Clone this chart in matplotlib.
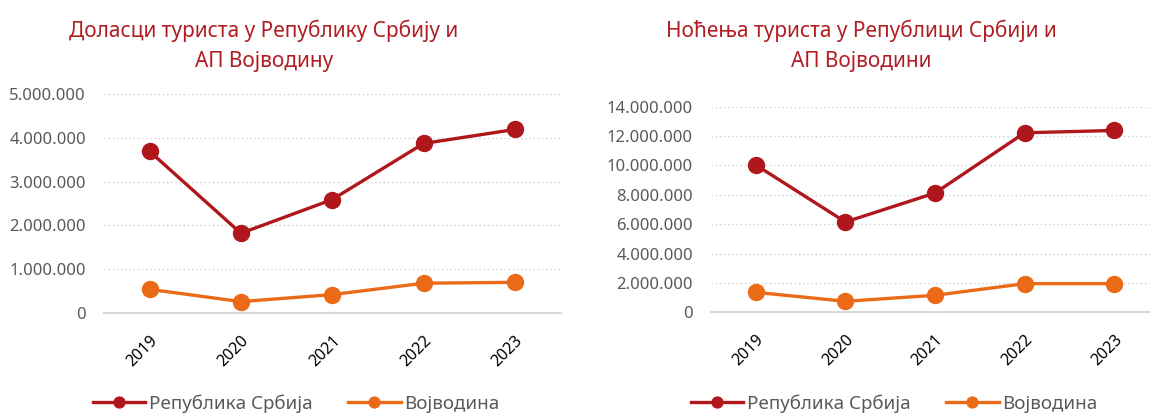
import matplotlib
matplotlib.use("Agg")
import matplotlib.pyplot as plt
from matplotlib.ticker import FuncFormatter, MultipleLocator

plt.rcParams['font.family'] = ['Noto Sans', 'DejaVu Sans']

years = ['2019', '2020', '2021', '2022', '2023']
dolasci_srbija = [3690000, 1820000, 2590000, 3870000, 4190000]
dolasci_vojvodina = [540000, 260000, 420000, 680000, 700000]
nocenja_srbija = [10030000, 6150000, 8120000, 12220000, 12380000]
nocenja_vojvodina = [1360000, 750000, 1160000, 1950000, 1950000]

series_names = ['Република Србија', 'Војводина']
titles = ['Доласци туриста у Републику Србију и\nАП Војводину',
          'Ноћења туриста у Републици Србији и\nАП Војводини']

red = '#B0171C'
orange = '#EA6A17'
gray_txt = '#595959'
grid_col = '#D0D0D0'


def dots(v, pos):
    return f'{int(v):,}'.replace(',', '.')


fig = plt.figure(figsize=(11.5, 4.15), dpi=100)
ax1 = fig.add_axes([0.0904, 0.2458, 0.397, 0.5277])
ax2 = fig.add_axes([0.6183, 0.2474, 0.3817, 0.4956])

setup = [
    (ax1, dolasci_srbija, dolasci_vojvodina, 5000000, 1000000, (-0.5, 4.5)),
    (ax2, nocenja_srbija, nocenja_vojvodina, 14000000, 2000000, (-0.5, 4.4)),
]

for ax, s1, s2, ymax, step, xl in setup:
    x = range(len(years))
    ax.plot(x, s1, color=red, lw=2.4, marker='o', ms=11.5, label=series_names[0], zorder=3)
    ax.plot(x, s2, color=orange, lw=2.4, marker='o', ms=11.5, label=series_names[1], zorder=3)
    ax.set_ylim(0, ymax)
    ax.set_xlim(*xl)
    ax.yaxis.set_major_locator(MultipleLocator(step))
    ax.yaxis.set_major_formatter(FuncFormatter(dots))
    ax.grid(axis='y', color=grid_col, ls=(0, (1, 2)), lw=1)
    ax.set_axisbelow(True)
    for sp in ['top', 'right', 'left']:
        ax.spines[sp].set_visible(False)
    ax.spines['bottom'].set_color('#D9D9D9')
    ax.spines['bottom'].set_linewidth(1.5)
    ax.set_xticks(list(x))
    ax.set_xticklabels(years, rotation=45, ha='right', rotation_mode='anchor', fontsize=11.5)
    ax.tick_params(axis='both', length=0)
    ax.tick_params(axis='x', pad=14)
    ax.tick_params(axis='y', labelsize=12, labelcolor=gray_txt, pad=13)

fig.text(0.2296, 0.89, titles[0], ha='center', va='center', fontsize=15,
         color='#B01E23', linespacing=1.6)
fig.text(0.7487, 0.89, titles[1], ha='center', va='center', fontsize=15,
         color='#B01E23', linespacing=1.6)

for ax, cx in [(ax1, 0.2575), (ax2, 0.7775)]:
    h, l = ax.get_legend_handles_labels()
    fig.legend(h, l, loc='center', bbox_to_anchor=(cx, 0.027), ncol=2, frameon=False,
               fontsize=13.5, handlelength=2.8, columnspacing=1.9, handletextpad=0.2,
               labelcolor=gray_txt, markerscale=0.68)

fig.savefig('out.png', dpi=100, facecolor='white')
